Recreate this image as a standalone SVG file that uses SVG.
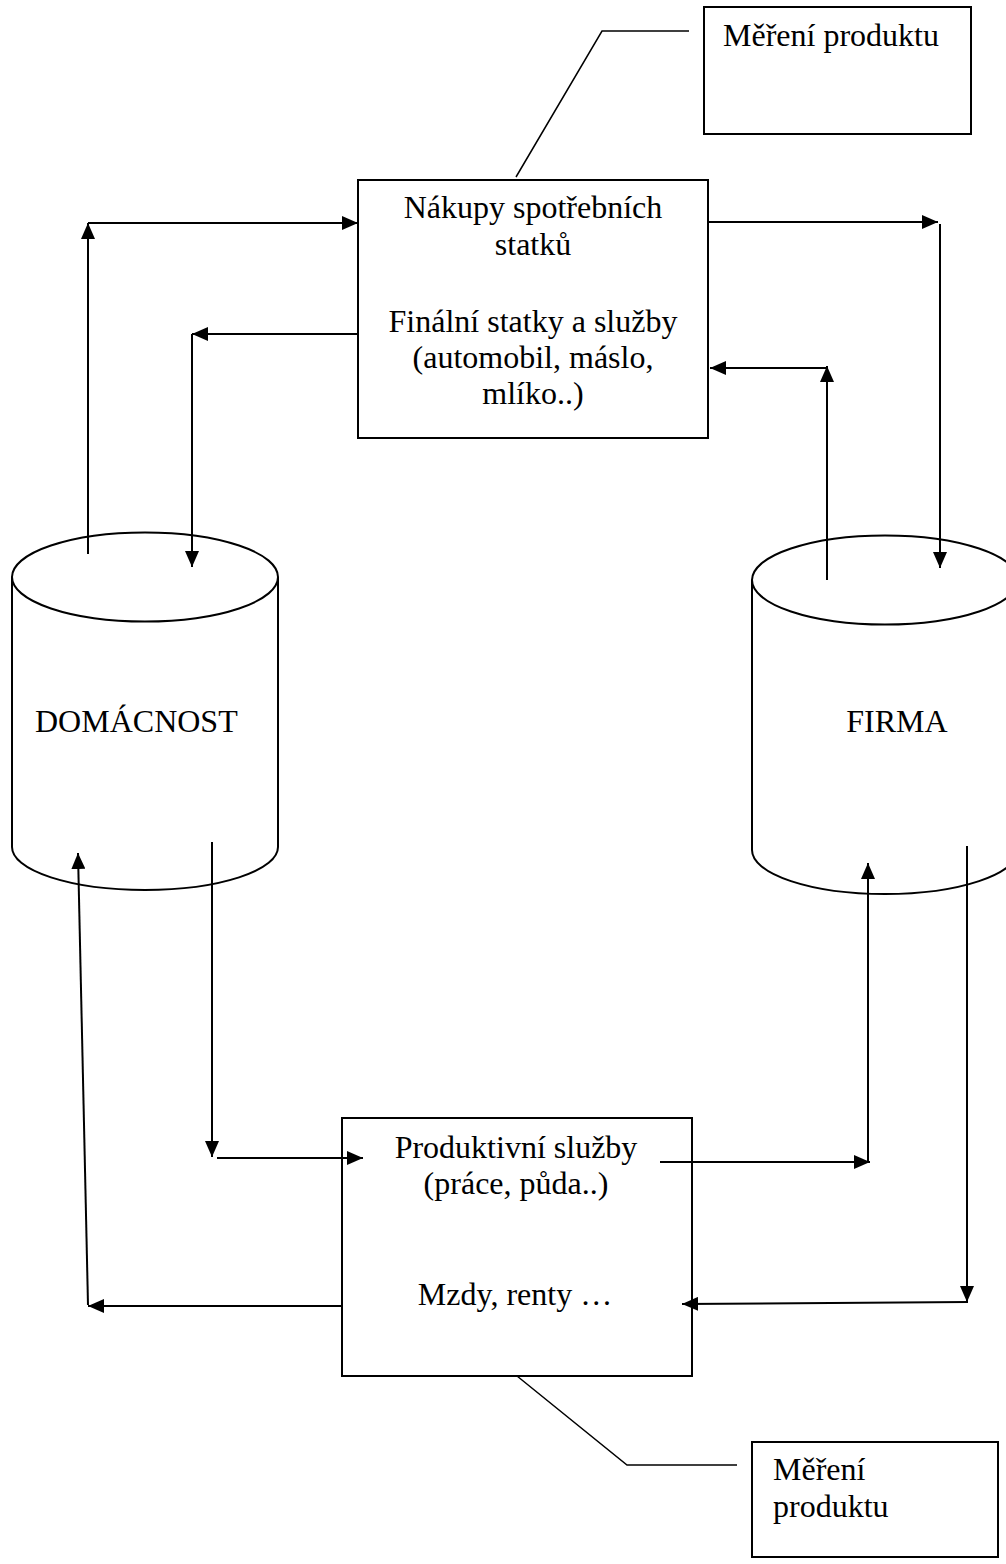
<svg xmlns="http://www.w3.org/2000/svg" width="1006" height="1564" viewBox="0 0 1006 1564">
<defs>
<style>
.box{fill:#fff;stroke:#000;stroke-width:2}
.cyl{fill:#fff;stroke:#000;stroke-width:2}
.t{font-family:"Liberation Serif","Times New Roman",serif;font-size:32px;fill:#000}
.c{text-anchor:middle}
.ln{fill:none;stroke:#000;stroke-width:2}
.co{fill:none;stroke:#000;stroke-width:1.5}
</style>
<marker id="ah" markerUnits="userSpaceOnUse" markerWidth="16" markerHeight="14" refX="16" refY="7" orient="auto">
<path d="M0,0 L16,7 L0,14 z" fill="#000"/>
</marker>
</defs>
<rect width="1006" height="1564" fill="#fff"/>

<g id="callout-top">
<rect class="box" x="704" y="7" width="267" height="127"/>
<text class="t" x="723" y="46">Měření produktu</text>
</g>

<g id="nakupy">
<rect class="box" x="358" y="180" width="350" height="258"/>
<text class="t c" x="533" y="218">Nákupy spotřebních</text>
<text class="t c" x="533" y="255">statků</text>
<text class="t c" x="533" y="332">Finální statky a služby</text>
<text class="t c" x="533" y="368">(automobil, máslo,</text>
<text class="t c" x="533" y="404">mlíko..)</text>
</g>

<g id="domacnost">
<path class="cyl" d="M12,577 L12,847 A133,43 0 0 0 278,847 L278,577"/>
<ellipse class="cyl" cx="145" cy="577" rx="133" ry="44.5"/>
<text class="t" x="35" y="732">DOMÁCNOST</text>
</g>

<g id="firma">
<path class="cyl" d="M752,580 L752,850 A133,44 0 0 0 1018,850 L1018,580"/>
<ellipse class="cyl" cx="885" cy="580" rx="133" ry="44.5"/>
<text class="t c" x="897" y="732">FIRMA</text>
</g>

<g id="produktivni">
<rect class="box" x="342" y="1118" width="350" height="258"/>
<text class="t c" x="516" y="1158">Produktivní služby</text>
<text class="t c" x="516" y="1194">(práce, půda..)</text>
<text class="t c" x="515" y="1305">Mzdy, renty …</text>
</g>

<g id="callout-bottom">
<rect class="box" x="752" y="1442" width="246" height="115"/>
<text class="t" x="773" y="1480">Měření</text>
<text class="t" x="773" y="1517">produktu</text>
</g>

<g id="connectors">
<polyline class="co" points="689,31 602,31 516,177"/>
<polyline class="co" points="517,1376 627,1465 737,1465"/>

<line class="ln" x1="88" y1="554" x2="88" y2="223" marker-end="url(#ah)"/>
<line class="ln" x1="88" y1="223" x2="358" y2="223" marker-end="url(#ah)"/>
<line class="ln" x1="358" y1="334" x2="192" y2="334" marker-end="url(#ah)"/>
<line class="ln" x1="192" y1="334" x2="192" y2="567" marker-end="url(#ah)"/>

<line class="ln" x1="708" y1="222" x2="938" y2="222" marker-end="url(#ah)"/>
<line class="ln" x1="940" y1="224" x2="940" y2="568" marker-end="url(#ah)"/>
<line class="ln" x1="827" y1="580" x2="827" y2="366" marker-end="url(#ah)"/>
<line class="ln" x1="827" y1="368" x2="710" y2="368" marker-end="url(#ah)"/>

<line class="ln" x1="212" y1="842" x2="212" y2="1157" marker-end="url(#ah)"/>
<line class="ln" x1="217" y1="1158" x2="363" y2="1158" marker-end="url(#ah)"/>
<line class="ln" x1="342" y1="1306" x2="88" y2="1306" marker-end="url(#ah)"/>
<line class="ln" x1="88" y1="1305" x2="78" y2="853" marker-end="url(#ah)"/>

<line class="ln" x1="660" y1="1162" x2="870" y2="1162" marker-end="url(#ah)"/>
<line class="ln" x1="868" y1="1162" x2="868" y2="863" marker-end="url(#ah)"/>
<line class="ln" x1="967" y1="846" x2="967" y2="1302" marker-end="url(#ah)"/>
<line class="ln" x1="968" y1="1302" x2="682" y2="1304" marker-end="url(#ah)"/>
</g>
</svg>
